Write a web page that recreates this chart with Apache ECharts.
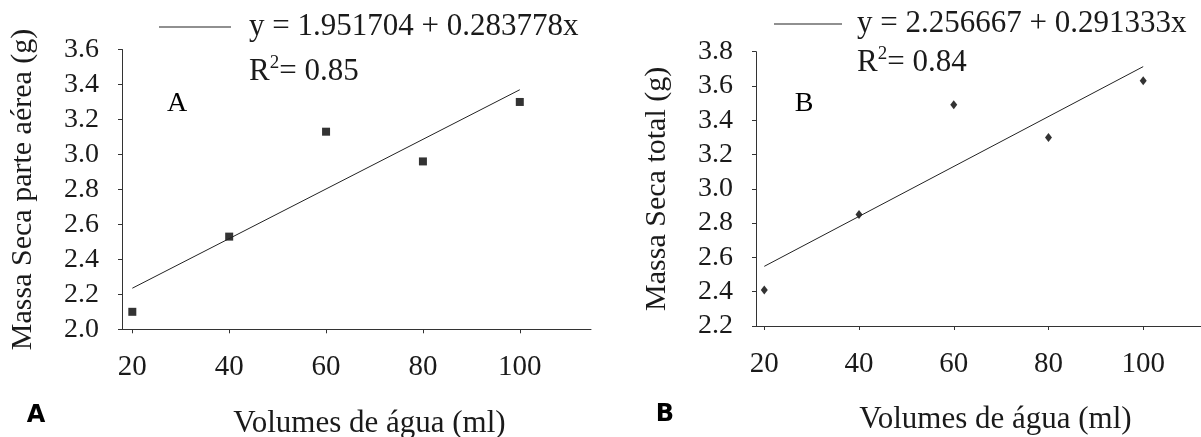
<!DOCTYPE html>
<html>
<head>
<meta charset="UTF-8">
<title>Massa seca</title>
<style type="text/css">
html, body {
	width: 100%;
	height: 100%;
	padding: 0px;
	margin: 0px;
	background: #fff;
}
</style>
<script src="https://cdn.jsdelivr.net/npm/echarts@6/dist/echarts.min.js"></script>
</head>
<body>
	<div id="chart" style="width: 1201px; height: 437px;"></div>

	<script type="text/javascript">
        // dados
        var volumes = [20, 40, 60, 80, 100];
        var massaParteAerea = [2.10, 2.53, 3.13, 2.96, 3.30];
        var massaTotal = [2.41, 2.85, 3.49, 3.30, 3.63];
        // extremos das retas de regressão
        var fitX = [20, 100];
        var fitParteAerea = [2.235, 3.370];
        var fitTotal = [2.548, 3.713];
        var xTicks = [20, 40, 60, 80, 100];
        var eqA = 'y = 1.951704 + 0.283778x';
        var eqB = 'y = 2.256667 + 0.291333x';
        var r2A = '0.85';
        var r2B = '0.84';

        var serif = 'Liberation Serif';
        var ink = '#1a1a1a';

        function pairs(xs, ys) {
            var out = [];
            for (var i = 0; i < xs.length; i++) out.push([xs[i], ys[i]]);
            return out;
        }

        function xAxisFor(idx, min, max, pad, gap) {
            return {
                type: 'value', gridIndex: idx, min: min, max: max,
                splitLine: { show: false },
                axisLine: { show: true, onZero: false, lineStyle: { color: '#333', width: 1 } },
                axisTick: { show: true, length: 4, customValues: xTicks, lineStyle: { color: '#333' } },
                axisLabel: { customValues: xTicks, margin: 24, fontFamily: serif, fontSize: 29, color: ink },
                name: 'Volumes de água (ml)', nameLocation: 'middle', nameGap: gap,
                nameTextStyle: { fontFamily: serif, fontSize: 31, color: ink, padding: [0, 0, 0, pad] }
            };
        }

        function yAxisFor(idx, min, max, name) {
            return {
                type: 'value', gridIndex: idx, min: min, max: max, interval: 0.2,
                splitLine: { show: false },
                axisLine: { show: true, onZero: false, lineStyle: { color: '#333', width: 1 } },
                axisTick: { show: true, length: 4, lineStyle: { color: '#333' } },
                axisLabel: { margin: 23, fontFamily: serif, fontSize: 28, color: ink,
                    formatter: function (v) { return v.toFixed(1); } },
                name: name, nameLocation: 'middle', nameGap: 84,
                nameTextStyle: { fontFamily: serif, fontSize: 30, color: ink }
            };
        }

        function r2Text(left, top, val) {
            return {
                type: 'text', left: left, top: top,
                style: {
                    text: 'R{sup|2}= ' + val,
                    fontFamily: serif, fontSize: 31, fill: ink,
                    rich: { sup: { fontFamily: serif, fontSize: 19, padding: [0, 0, 16, 0] } }
                }
            };
        }

        function plainText(x, y, txt, font, size, weight) {
            return {
                type: 'text', x: x, y: y,
                style: { text: txt, fontFamily: font, fontSize: size, fontWeight: weight || 'normal',
                    fill: '#000', align: 'center', verticalAlign: 'middle' }
            };
        }

        var myChart = echarts.init(document.getElementById('chart'), null, { renderer: 'canvas' });

        var legendBase = {
            orient: 'horizontal', padding: 0, itemWidth: 72, itemHeight: 1,
            icon: 'rect', itemStyle: { color: '#222' },
            textStyle: { fontFamily: serif, fontSize: 31, color: ink, lineHeight: 34, padding: [0, 0, 0, 13] }
        };

        myChart.setOption({
            animation: false,
            grid: [
                { left: 122, right: 610, top: 49.5, bottom: 107.7, outerBoundsMode: 'none' },
                { left: 756, right: 0, top: 51.7, bottom: 111, outerBoundsMode: 'none' }
            ],
            xAxis: [
                xAxisFor(0, 17.87, 114.7, 26, 79),
                xAxisFor(1, 18.25, 112.2, 34, 78)
            ],
            yAxis: [
                yAxisFor(0, 2.0, 3.6, 'Massa Seca parte aérea (g)'),
                yAxisFor(1, 2.2, 3.8, 'Massa Seca total (g)')
            ],
            legend: [
                Object.assign({}, legendBase, { left: 159, top: 10, data: [eqA] }),
                Object.assign({}, legendBase, { left: 774, top: 7, itemWidth: 68,
                    textStyle: Object.assign({}, legendBase.textStyle, { padding: [0, 0, 0, 10] }), data: [eqB] })
            ],
            graphic: [
                r2Text(249, 54, r2A),
                r2Text(857, 45, r2B),
                plainText(177, 104, 'A', serif, 28),
                plainText(804, 104, 'B', serif, 28),
                plainText(36, 416, 'A', 'DejaVu Sans', 24, 'bold'),
                plainText(665, 415, 'B', 'DejaVu Sans', 24, 'bold')
            ],
            series: [
                {
                    name: eqA, type: 'line', xAxisIndex: 0, yAxisIndex: 0,
                    data: pairs(fitX, fitParteAerea), symbol: 'none',
                    lineStyle: { color: '#222', width: 1 }, itemStyle: { color: '#222' }
                },
                {
                    type: 'scatter', xAxisIndex: 0, yAxisIndex: 0,
                    data: pairs(volumes, massaParteAerea), symbol: 'rect', symbolSize: 8,
                    itemStyle: { color: '#000' }
                },
                {
                    name: eqB, type: 'line', xAxisIndex: 1, yAxisIndex: 1,
                    data: pairs(fitX, fitTotal), symbol: 'none',
                    lineStyle: { color: '#222', width: 1 }, itemStyle: { color: '#222' }
                },
                {
                    type: 'scatter', xAxisIndex: 1, yAxisIndex: 1,
                    data: pairs(volumes, massaTotal), symbol: 'diamond', symbolSize: [7, 9],
                    itemStyle: { color: '#000' }
                }
            ]
        });
	</script>
</body>
</html>
